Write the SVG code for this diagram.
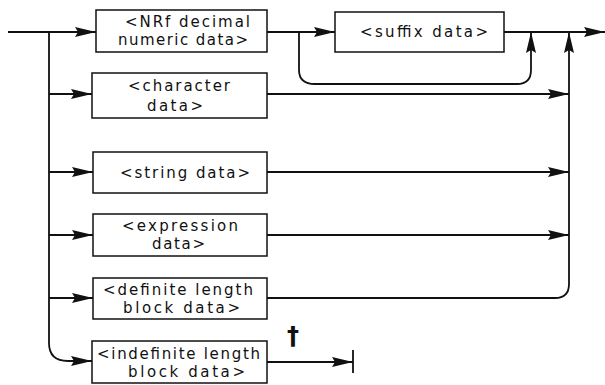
<svg xmlns="http://www.w3.org/2000/svg" width="605" height="385" viewBox="0 0 605 385">
<style>
.box{fill:#fff;stroke:#111;stroke-width:1.5}
.t{font-family:"DejaVu Sans",sans-serif;font-size:15px;fill:#111}
.c{fill:none;stroke:#111;stroke-width:1.8}
</style>
<defs>
<marker id="ah" markerUnits="userSpaceOnUse" markerWidth="22" markerHeight="12" refX="21" refY="6" orient="auto">
<path d="M0,1 L21,6 L0,11 L3,6 z" fill="#111"/>
</marker>
</defs>
<rect width="605" height="385" fill="#fff"/>
<g id="connectors">
<path class="c" d="M8,32 H96" marker-end="url(#ah)"/>
<path class="c" d="M49,32 V343 Q49,361 68,361 H92" marker-end="url(#ah)"/>
<path class="c" d="M49,94 H92" marker-end="url(#ah)"/>
<path class="c" d="M49,172 H93" marker-end="url(#ah)"/>
<path class="c" d="M49,235 H93" marker-end="url(#ah)"/>
<path class="c" d="M49,298 H93" marker-end="url(#ah)"/>
<path class="c" d="M267,32 H335" marker-end="url(#ah)"/>
<path class="c" d="M299,32 V70 Q299,84 315,84 H517 Q531,84 531,70 V32" marker-end="url(#ah)"/>
<path class="c" d="M504,32 H605" marker-end="url(#ah)"/>
<path class="c" d="M267,298 H555 Q569,298 569,284 V32" marker-end="url(#ah)"/>
<path class="c" d="M267,94 H569" marker-end="url(#ah)"/>
<path class="c" d="M267,172 H569" marker-end="url(#ah)"/>
<path class="c" d="M267,235 H569" marker-end="url(#ah)"/>
<path class="c" d="M267,362 H353" marker-end="url(#ah)"/>
<path class="c" d="M353,350 V373"/>
</g>
<g id="n1">
<rect class="box" x="96" y="10" width="171" height="42"/>
<text class="t" x="125" y="27" textLength="125" lengthAdjust="spacing">&lt;NRf decimal</text>
<text class="t" x="118" y="45" textLength="130" lengthAdjust="spacing">numeric data&gt;</text>
</g>
<g id="n2">
<rect class="box" x="335" y="12" width="169" height="40"/>
<text class="t" x="360" y="37" textLength="128" lengthAdjust="spacing">&lt;suffix data&gt;</text>
</g>
<g id="n3">
<rect class="box" x="92" y="73" width="175" height="45"/>
<text class="t" x="128" y="91" textLength="102" lengthAdjust="spacing">&lt;character</text>
<text class="t" x="147" y="111" textLength="56" lengthAdjust="spacing">data&gt;</text>
</g>
<g id="n4">
<rect class="box" x="93" y="152" width="174" height="41"/>
<text class="t" x="120" y="178" textLength="130" lengthAdjust="spacing">&lt;string data&gt;</text>
</g>
<g id="n5">
<rect class="box" x="93" y="214" width="174" height="42"/>
<text class="t" x="122" y="231" textLength="116" lengthAdjust="spacing">&lt;expression</text>
<text class="t" x="152" y="249" textLength="53" lengthAdjust="spacing">data&gt;</text>
</g>
<g id="n6">
<rect class="box" x="93" y="278" width="174" height="41"/>
<text class="t" x="103" y="295" textLength="150" lengthAdjust="spacing">&lt;definite length</text>
<text class="t" x="123" y="313" textLength="117" lengthAdjust="spacing">block data&gt;</text>
</g>
<g id="n7">
<rect class="box" x="92" y="341" width="175" height="42"/>
<text class="t" x="97" y="359" textLength="163" lengthAdjust="spacing">&lt;indefinite length</text>
<text class="t" x="128" y="377" textLength="117" lengthAdjust="spacing">block data&gt;</text>
</g>
<g id="dagger">
<text x="293" y="344" text-anchor="middle" style="font-family:'DejaVu Sans',sans-serif;font-size:24px;font-weight:bold;fill:#111">†</text>
</g>
</svg>
